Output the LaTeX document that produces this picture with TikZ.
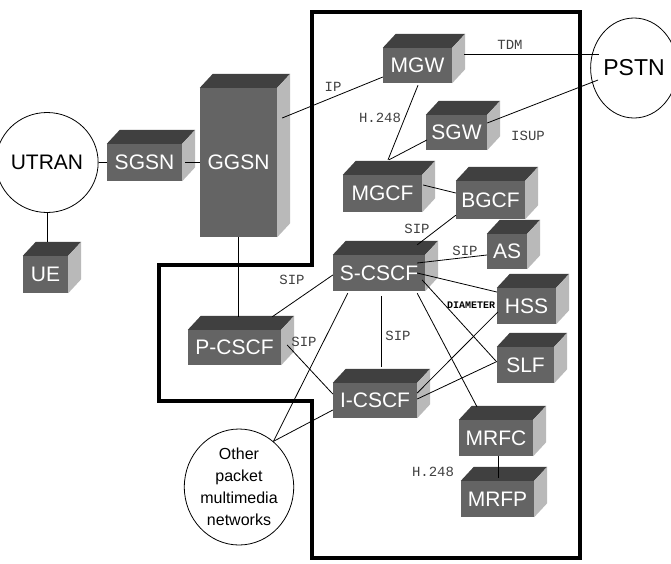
\documentclass[tikz,border=0pt]{standalone}
\usepackage{fontspec}
\setmainfont{Liberation Sans}
\setmonofont{Liberation Mono}
\usetikzlibrary{calc,shapes.geometric}

\definecolor{cubefront}{RGB}{100,100,100}
\definecolor{cubetop}{RGB}{64,64,64}
\definecolor{cubeside}{RGB}{185,185,185}

\tikzset{
  cube/.style 2 args={fill=cubefront, text=white, inner sep=0pt,
    minimum width=#1pt, minimum height=#2pt, font=\fontsize{21}{24}\selectfont},
  net/.style={ellipse, draw, line width=0.8pt, inner sep=0pt},
  proto/.style={font=\ttfamily\fontsize{14}{16}\selectfont, text=black!75, inner sep=1pt},
  link/.style={line width=0.8pt},
}

\begin{document}
\begin{tikzpicture}[x=1pt,y=-1pt]
\useasboundingbox (0,0) rectangle (671,563);

% IMS domain border
\draw[line width=4pt, line join=miter]
  (312,12) -- (580,12) -- (580,558) -- (312,558) -- (312,401)
  -- (159,401) -- (159,265) -- (312,265) -- cycle;

% Outside networks
\node[net, minimum width=80pt, minimum height=100pt, font=\fontsize{21}{24}\selectfont] (utran) at (47,162.5) {UTRAN};
\node[net, minimum width=74pt, minimum height=100pt, font=\fontsize{23}{26}\selectfont] (pstn) at (634,68) {PSTN};
\node[net, minimum width=108pt, minimum height=116pt, align=center, font=\fontsize{16}{22}\selectfont] (other) at (239,487) {Other\\packet\\multimedia\\networks};

% Boxes (front faces)
\node[cube={45}{37}] (ue) at (45.5,274.5) {UE};
\node[cube={75}{37}] (sgsn) at (144.5,162.5) {SGSN};
\node[cube={77}{149}] (ggsn) at (238.5,162.5) {GGSN};
\node[cube={69}{35}] (mgw) at (417.5,65.5) {MGW};
\node[cube={61}{35}] (sgw) at (456.5,132.5) {SGW};
\node[cube={79}{37}] (mgcf) at (382.5,193.5) {MGCF};
\node[cube={69}{38}] (bgcf) at (490.5,200) {BGCF};
\node[cube={40}{35}] (as) at (507,251.5) {AS};
\node[cube={59}{36}] (hss) at (526.5,306) {HSS};
\node[cube={57}{36}] (slf) at (525.5,365) {SLF};
\node[cube={92}{36}] (scscf) at (379,273) {S-CSCF};
\node[cube={93}{35}] (pcscf) at (234.5,347.5) {P-CSCF};
\node[cube={84}{35}] (icscf) at (375,400.5) {I-CSCF};
\node[cube={74}{36}] (mrfc) at (496,438) {MRFC};
\node[cube={73}{36}] (mrfp) at (497.5,499) {MRFP};

% Top and side faces
\foreach \n in {ue,sgsn,ggsn,mgw,sgw,mgcf,bgcf,as,hss,slf,scscf,pcscf,icscf,mrfc,mrfp}{
  \fill[cubetop] (\n.north west) -- ++(13,-14) -- ($(\n.north east)+(13,-14)$) -- (\n.north east) -- cycle;
  \fill[cubeside] (\n.north east) -- ++(13,-14) -- ($(\n.south east)+(13,-14)$) -- (\n.south east) -- cycle;
}

% Links
\draw[link] (utran.east) -- (sgsn.west);
\draw[link] (utran.south) -- ($(ue.north)+(1.5,-14)$);
\draw[link] ($(sgsn.east)+(3,0)$) -- (ggsn.west);
\draw[link] ($(ggsn.east)+(5,-44.5)$) -- ($(mgw.west)+(0,11.5)$);
\draw[link] (ggsn.south) -- ($(pcscf.north)+(4,-13)$);
\draw[link] ($(mgw.east)+(12,-11.5)$) -- ($(pstn.center)+(-35.5,-14)$);
\draw[link] ($(sgw.east)+(0,-9.5)$) -- ($(pstn.center)+(-36,12)$);
\draw[link] ($(mgw.south)+(0.5,2)$) -- ($(mgcf.north)+(5.5,-15)$);
\draw[link] ($(sgw.west)+(1,7.5)$) -- ($(mgcf.north)+(6.5,-15)$);
\draw[link] ($(mgcf.east)+(1,-8.5)$) -- ($(bgcf.west)+(0,-7)$);
\draw[link] ($(scscf.north east)+(-8,-10)$) -- ($(bgcf.south west)+(0,-4)$);
\draw[link] ($(scscf.east)+(-8,-10)$) -- ($(as.west)+(0,3.5)$);
\draw[link] ($(scscf.east)+(-8,0)$) -- ($(hss.west)+(0,-14)$);
\draw[link] ($(scscf.east)+(-3,7)$) -- ($(slf.west)+(0,-3)$);
\draw[link] ($(scscf.south east)+(-8,2)$) -- ($(mrfc.north)+(-19,-13)$);
\draw[link] ($(scscf.south)+(2,5)$) -- ($(icscf.north)+(6,-16)$);
\draw[link] ($(scscf.west)+(0,2)$) -- ($(pcscf.north east)+(-9,-13)$);
\draw[link] ($(pcscf.east)+(6,-2.5)$) -- ($(icscf.west)+(0,-6.5)$);
\draw[link] ($(scscf.south west)+(15,2)$) -- (other.53);
\draw[link] ($(icscf.west)+(0,9.5)$) -- (other.53);
\draw[link] ($(icscf.east)+(0,-7.5)$) -- ($(hss.west)+(1,6)$);
\draw[link] ($(icscf.east)+(0,-1.5)$) -- ($(slf.west)+(-1,-3)$);
\draw[link] ($(mrfc.south)+(2,0)$) -- ($(mrfp.north)+(0.5,-3)$);

% Protocol labels
\node[proto] (ip) at (333,87) {IP};
\node[proto] (tdm) at (510,45) {TDM};
\node[proto] (h248a) at (380,118) {H.248};
\node[proto] (isup) at (528,136) {ISUP};
\node[proto] (sipb) at (417,229) {SIP};
\node[proto] (sipas) at (465,251) {SIP};
\node[proto] (sipp) at (292,280) {SIP};
\node[proto, font=\ttfamily\bfseries\fontsize{10}{12}\selectfont, text=black] (diam) at (471,305) {DIAMETER};
\node[proto] (sipi) at (398,336) {SIP};
\node[proto] (sippi) at (304,342) {SIP};
\node[proto] (h248b) at (433,472) {H.248};
\end{tikzpicture}
\end{document}
